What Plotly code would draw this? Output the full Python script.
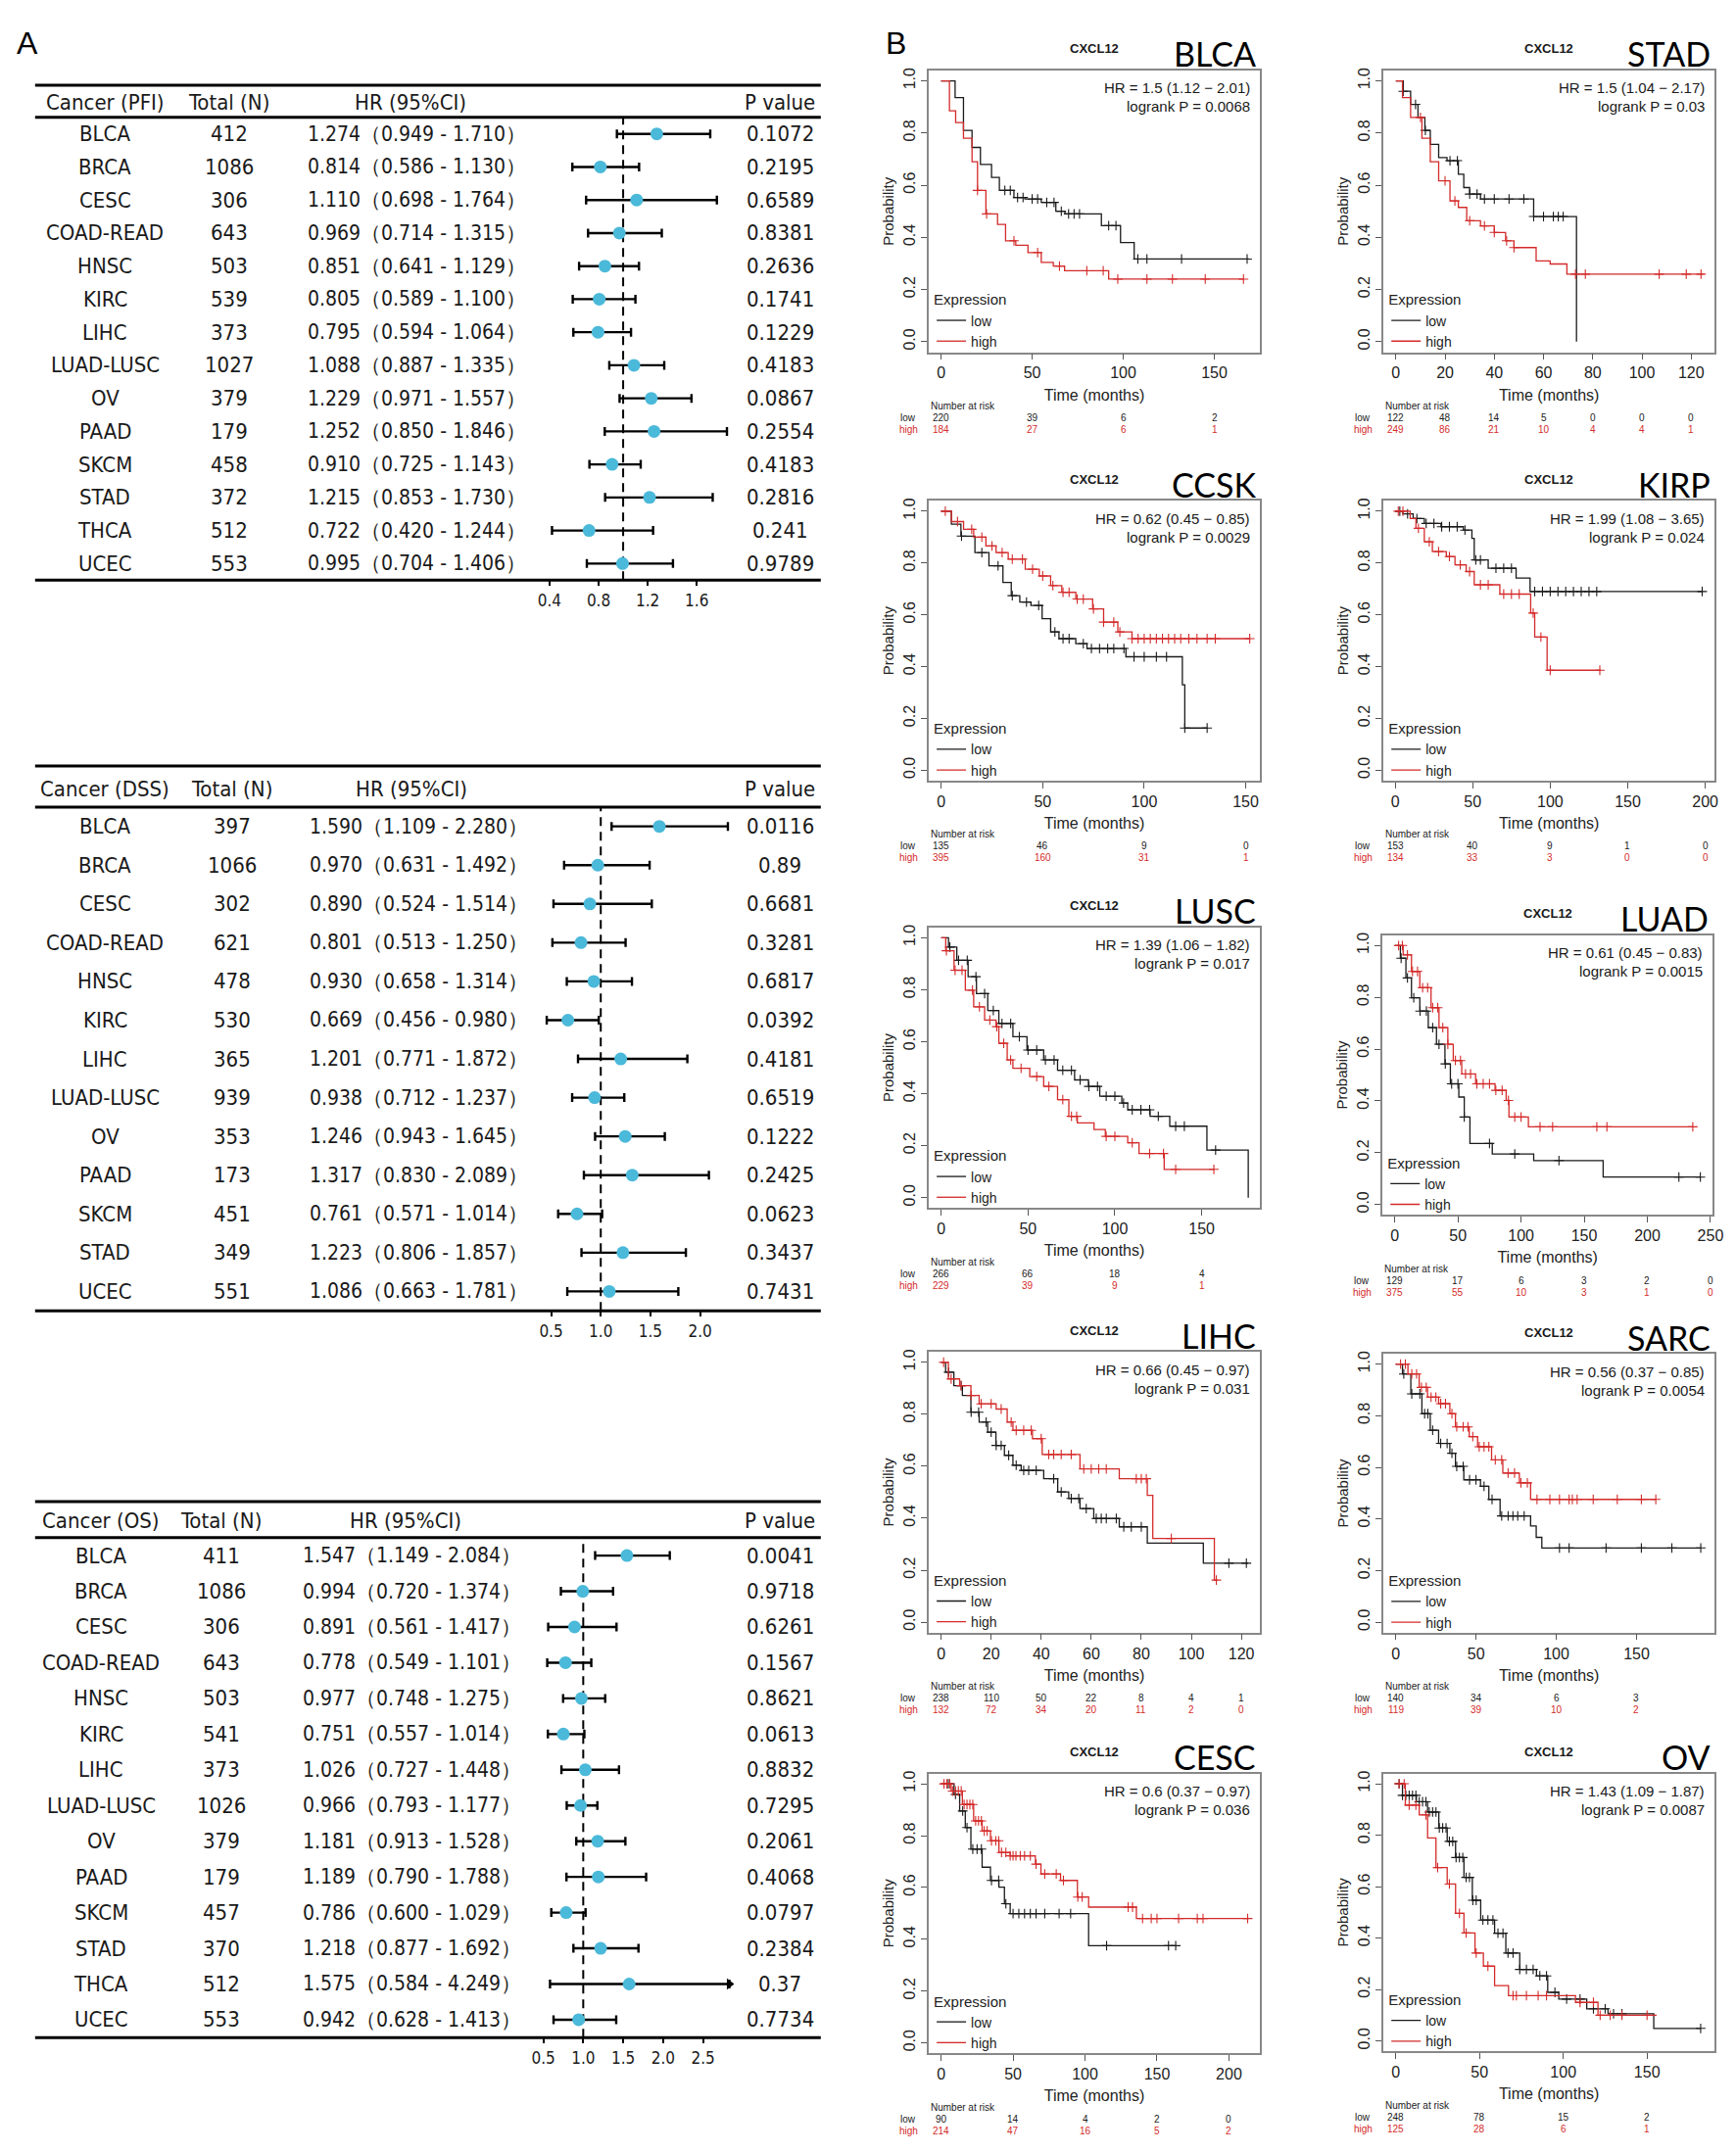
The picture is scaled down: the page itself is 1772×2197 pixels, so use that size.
import plotly.graph_objects as go

W, H = 1772, 2197

# ---------------- Forest data (panel A) ----------------
pfi_cancer = ["BLCA", "BRCA", "CESC", "COAD-READ", "HNSC", "KIRC", "LIHC", "LUAD-LUSC",
              "OV", "PAAD", "SKCM", "STAD", "THCA", "UCEC"]
pfi_n = [412, 1086, 306, 643, 503, 539, 373, 1027, 379, 179, 458, 372, 512, 553]
pfi_hr = [1.274, 0.814, 1.110, 0.969, 0.851, 0.805, 0.795, 1.088, 1.229, 1.252, 0.910, 1.215, 0.722, 0.995]
pfi_lo = [0.949, 0.586, 0.698, 0.714, 0.641, 0.589, 0.594, 0.887, 0.971, 0.850, 0.725, 0.853, 0.420, 0.704]
pfi_hi = [1.710, 1.130, 1.764, 1.315, 1.129, 1.100, 1.064, 1.335, 1.557, 1.846, 1.143, 1.730, 1.244, 1.406]
pfi_p = ["0.1072", "0.2195", "0.6589", "0.8381", "0.2636", "0.1741", "0.1229", "0.4183",
         "0.0867", "0.2554", "0.4183", "0.2816", "0.241", "0.9789"]

dss_cancer = ["BLCA", "BRCA", "CESC", "COAD-READ", "HNSC", "KIRC", "LIHC", "LUAD-LUSC",
              "OV", "PAAD", "SKCM", "STAD", "UCEC"]
dss_n = [397, 1066, 302, 621, 478, 530, 365, 939, 353, 173, 451, 349, 551]
dss_hr = [1.590, 0.970, 0.890, 0.801, 0.930, 0.669, 1.201, 0.938, 1.246, 1.317, 0.761, 1.223, 1.086]
dss_lo = [1.109, 0.631, 0.524, 0.513, 0.658, 0.456, 0.771, 0.712, 0.943, 0.830, 0.571, 0.806, 0.663]
dss_hi = [2.280, 1.492, 1.514, 1.250, 1.314, 0.980, 1.872, 1.237, 1.645, 2.089, 1.014, 1.857, 1.781]
dss_p = ["0.0116", "0.89", "0.6681", "0.3281", "0.6817", "0.0392", "0.4181", "0.6519",
         "0.1222", "0.2425", "0.0623", "0.3437", "0.7431"]

os_cancer = ["BLCA", "BRCA", "CESC", "COAD-READ", "HNSC", "KIRC", "LIHC", "LUAD-LUSC",
             "OV", "PAAD", "SKCM", "STAD", "THCA", "UCEC"]
os_n = [411, 1086, 306, 643, 503, 541, 373, 1026, 379, 179, 457, 370, 512, 553]
os_hr = [1.547, 0.994, 0.891, 0.778, 0.977, 0.751, 1.026, 0.966, 1.181, 1.189, 0.786, 1.218, 1.575, 0.942]
os_lo = [1.149, 0.720, 0.561, 0.549, 0.748, 0.557, 0.727, 0.793, 0.913, 0.790, 0.600, 0.877, 0.584, 0.628]
os_hi = [2.084, 1.374, 1.417, 1.101, 1.275, 1.014, 1.448, 1.177, 1.528, 1.788, 1.029, 1.692, 4.249, 1.413]
os_p = ["0.0041", "0.9718", "0.6261", "0.1567", "0.8621", "0.0613", "0.8832", "0.7295",
        "0.2061", "0.4068", "0.0797", "0.2384", "0.37", "0.7734"]

pfi_ticks = [0.4, 0.8, 1.2, 1.6]
dss_ticks = [0.5, 1.0, 1.5, 2.0]
os_ticks = [0.5, 1.0, 1.5, 2.0, 2.5]

# ---------------- Kaplan-Meier data (panel B) ----------------
blca_low_t = [0, 7.7, 12.3, 17, 21.6, 27.7, 32, 40, 46, 55, 63, 68, 88, 98.5, 106, 169]
blca_low_s = [1.0, 0.936, 0.81, 0.745, 0.68, 0.63, 0.58, 0.553, 0.547, 0.534, 0.50, 0.49, 0.445, 0.38, 0.317, 0.317]
blca_low_c = [35, 38, 42, 45, 50, 53, 58, 62, 66, 70, 73, 76, 92, 96, 108, 113, 132, 168]
blca_high_t = [0, 4.6, 8, 12.3, 17, 20, 24.6, 31, 35.4, 41, 47.7, 55, 61.6, 67.8, 92, 166]
blca_high_s = [1.0, 0.885, 0.84, 0.78, 0.69, 0.58, 0.49, 0.45, 0.387, 0.37, 0.342, 0.304, 0.29, 0.272, 0.24, 0.24]
blca_high_c = [20, 25, 40, 53, 65, 80, 89, 97, 113, 127, 145, 166]

stad_low_t = [0, 3, 6, 9, 11.8, 14, 17.4, 20.8, 25.4, 27.6, 30, 34.4, 56, 73.4]
stad_low_s = [1.0, 0.96, 0.91, 0.86, 0.81, 0.757, 0.706, 0.694, 0.642, 0.591, 0.566, 0.547, 0.48, 0.0]
stad_low_c = [3, 8, 12, 22, 25, 30, 33, 36, 40, 46, 52, 56, 60, 64, 66, 68]
stad_high_t = [0, 2.7, 6, 10.6, 14, 17.4, 22, 25.4, 28.8, 34.4, 40, 44.6, 48, 57, 62.7, 69.5, 125]
stad_high_s = [1.0, 0.936, 0.86, 0.78, 0.69, 0.617, 0.54, 0.515, 0.464, 0.444, 0.419, 0.387, 0.361, 0.31, 0.298, 0.259, 0.259]
stad_high_c = [10, 20, 24, 30, 36, 40, 45, 48, 73, 77, 107, 118, 124]

ccsk_low_t = [0, 5, 9.7, 16.6, 23.5, 30.4, 34.5, 38.7, 44.2, 49.7, 53.9, 58, 66.3, 71.8, 91, 118.8, 120, 131]
ccsk_low_s = [1.0, 0.95, 0.904, 0.84, 0.789, 0.725, 0.674, 0.649, 0.636, 0.585, 0.534, 0.508, 0.489, 0.47, 0.438, 0.33, 0.163, 0.163]
ccsk_low_c = [10, 20, 28, 35, 42, 48, 56, 60, 63, 70, 74, 78, 82, 85, 90, 95, 100, 106, 111, 120, 131]
ccsk_high_t = [0, 5, 11, 16, 22, 27, 33, 41.4, 48.3, 53.9, 59.4, 66.3, 74.6, 80, 87, 94, 152]
ccsk_high_s = [1.0, 0.96, 0.93, 0.9, 0.866, 0.84, 0.815, 0.776, 0.75, 0.713, 0.687, 0.661, 0.623, 0.572, 0.534, 0.508, 0.508]
ccsk_high_c = [2, 8, 15, 20, 25, 30, 35, 40, 45, 50, 55, 60, 63, 67, 70, 75, 80, 85, 88, 94, 97, 100,
               103, 106, 109, 112, 115, 118, 122, 126, 131, 135, 152]

kirp_low_t = [0, 5, 11.6, 18.8, 29.6, 44, 49.5, 51, 60, 78, 87, 198.5]
kirp_low_s = [1.0, 0.99, 0.972, 0.953, 0.94, 0.927, 0.895, 0.812, 0.78, 0.742, 0.69, 0.69]
kirp_low_c = [3, 8, 14, 20, 25, 30, 35, 40, 45, 52, 55, 65, 70, 75, 90, 95, 100, 105, 110, 115, 120, 125, 130, 198]
kirp_high_t = [0, 9.7, 13.4, 18.8, 24, 33, 38.6, 45.8, 51, 67.5, 87.4, 90, 98, 132.5]
kirp_high_s = [1.0, 0.972, 0.934, 0.882, 0.844, 0.825, 0.793, 0.767, 0.716, 0.68, 0.607, 0.514, 0.386, 0.386]
kirp_high_c = [2, 5, 15, 22, 28, 35, 42, 48, 55, 60, 70, 75, 80, 89, 94, 100, 132]

lusc_low_t = [0, 4.2, 9, 15.5, 20.3, 26.8, 33.2, 41.3, 49.4, 59, 67, 76.8, 84.8, 91.3, 104, 107.4, 120.3, 131.6, 153, 176.8]
lusc_low_s = [1.0, 0.964, 0.913, 0.85, 0.785, 0.72, 0.67, 0.619, 0.568, 0.53, 0.49, 0.453, 0.428, 0.39, 0.364, 0.338, 0.313, 0.275, 0.183, 0.0]
lusc_low_c = [5, 10, 15, 20, 25, 30, 35, 40, 45, 50, 55, 60, 65, 70, 75, 80, 85, 90, 95, 100, 105, 110,
              115, 120, 125, 135, 140, 158]
lusc_high_t = [0, 2.6, 7.4, 13.9, 18.7, 25, 31.6, 33.2, 38, 41.3, 51, 59, 67, 73.5, 78.4, 88, 94.5, 107.4, 113.9, 128.4, 157.4]
lusc_high_s = [1.0, 0.95, 0.875, 0.798, 0.734, 0.683, 0.658, 0.594, 0.53, 0.498, 0.466, 0.428, 0.377, 0.313, 0.288, 0.262, 0.236, 0.211, 0.17, 0.109, 0.109]
lusc_high_c = [3, 8, 12, 18, 22, 28, 32, 36, 40, 46, 55, 62, 70, 75, 78, 95, 100, 110, 120, 128, 135, 157]

luad_low_t = [0, 4.4, 8.8, 13.2, 19.8, 26.5, 33, 39.7, 44, 50.7, 55, 59.5, 77.2, 110, 165, 242]
luad_low_s = [1.0, 0.951, 0.875, 0.798, 0.747, 0.683, 0.619, 0.543, 0.466, 0.415, 0.338, 0.236, 0.195, 0.17, 0.106, 0.106]
luad_low_c = [5, 10, 15, 20, 25, 30, 35, 40, 45, 50, 55, 75, 95, 130, 225, 242]
luad_high_t = [0, 6.6, 13.2, 19.8, 28.7, 35, 42, 46.3, 53, 64, 79.4, 88.2, 90.4, 105.8, 236]
luad_high_s = [1.0, 0.964, 0.9, 0.837, 0.76, 0.683, 0.619, 0.556, 0.504, 0.466, 0.441, 0.402, 0.338, 0.3, 0.3]
luad_high_c = [3, 6, 10, 14, 18, 22, 26, 30, 34, 38, 42, 48, 52, 56, 60, 65, 70, 75, 80, 85, 90, 95, 100,
               115, 125, 160, 168, 236]

lihc_low_t = [0, 1.8, 5.1, 8.5, 11.9, 15.2, 18.6, 21.9, 25.3, 28.7, 32, 41, 46.6, 51, 55.5, 61, 71.2, 82.4, 104.8, 122.7]
lihc_low_s = [1.0, 0.962, 0.91, 0.872, 0.808, 0.77, 0.731, 0.68, 0.642, 0.604, 0.584, 0.552, 0.501, 0.476, 0.437, 0.399, 0.367, 0.304, 0.227, 0.227]
lihc_low_c = [3, 8, 12, 15, 18, 20, 22, 24, 27, 30, 33, 35, 38, 45, 48, 52, 55, 58, 62, 64, 66, 70, 73, 76, 80, 115, 122]
lihc_high_t = [0, 2.9, 7.4, 11.9, 15.2, 22, 26.4, 28.7, 36.5, 40.4, 55.5, 71.2, 82.4, 84.6, 109.2, 110.4]
lihc_high_s = [1.0, 0.936, 0.91, 0.872, 0.84, 0.82, 0.77, 0.738, 0.706, 0.645, 0.59, 0.552, 0.488, 0.322, 0.162, 0.162]
lihc_high_c = [1, 4, 8, 12, 16, 20, 24, 28, 30, 33, 36, 40, 43, 45, 48, 52, 57, 60, 63, 66, 78, 80, 82, 92, 110]

sarc_low_t = [0, 4.2, 9.4, 16.3, 21.5, 26.7, 33.7, 37.2, 42.4, 52.8, 58, 65, 84, 87.5, 91, 190]
sarc_low_s = [1.0, 0.962, 0.885, 0.808, 0.744, 0.693, 0.655, 0.604, 0.552, 0.527, 0.476, 0.412, 0.373, 0.329, 0.288, 0.288]
sarc_low_c = [5, 10, 15, 18, 20, 23, 28, 32, 35, 38, 42, 46, 50, 55, 60, 66, 70, 73, 76, 80, 102, 108, 131, 153, 172, 190]
sarc_high_t = [0, 7.6, 14.6, 19.8, 26.7, 33.7, 37.2, 45.8, 51, 59.7, 66.7, 77, 84, 162]
sarc_high_s = [1.0, 0.962, 0.91, 0.872, 0.847, 0.808, 0.757, 0.719, 0.68, 0.629, 0.578, 0.54, 0.476, 0.476]
sarc_high_c = [3, 6, 10, 13, 16, 19, 22, 25, 28, 31, 35, 38, 42, 45, 48, 52, 55, 58, 62, 66, 70, 74, 78, 82,
               88, 96, 102, 108, 110, 113, 123, 138, 153, 162]

cesc_low_t = [0, 9, 12.9, 16.8, 20.7, 28.5, 34.3, 40.2, 44, 48, 102.5, 163]
cesc_low_s = [1.0, 0.959, 0.895, 0.831, 0.748, 0.678, 0.627, 0.601, 0.537, 0.499, 0.375, 0.375]
cesc_low_c = [5, 10, 15, 18, 22, 25, 28, 35, 40, 45, 50, 54, 58, 62, 66, 72, 82, 90, 115, 158, 163]
cesc_high_t = [0, 7, 14.8, 22.6, 28.5, 34.3, 40.2, 48, 65.5, 69.4, 83, 94.7, 102.5, 135.7, 213.6]
cesc_high_s = [1.0, 0.972, 0.92, 0.857, 0.818, 0.78, 0.735, 0.722, 0.69, 0.652, 0.627, 0.563, 0.524, 0.48, 0.48]
cesc_high_c = [2, 4, 6, 8, 10, 12, 14, 16, 18, 20, 22, 24, 26, 28, 30, 32, 35, 38, 40, 42, 45, 48, 50, 52,
               55, 58, 62, 66, 72, 80, 85, 95, 98, 130, 133, 140, 146, 150, 165, 178, 182, 213]

ov_low_t = [0, 4, 12.3, 19, 25.7, 30.7, 35.7, 40.7, 45.7, 50.7, 59, 65.7, 74, 84, 90.7, 97.3, 114, 126.7, 154, 182]
ov_low_s = [1.0, 0.955, 0.93, 0.89, 0.828, 0.776, 0.713, 0.636, 0.547, 0.47, 0.419, 0.342, 0.278, 0.253, 0.189, 0.163, 0.125, 0.106, 0.049, 0.049]
ov_low_c = [2, 4, 6, 8, 10, 12, 14, 16, 18, 20, 22, 24, 26, 28, 30, 32, 34, 36, 38, 40, 42, 44, 46, 48,
            52, 55, 58, 61, 64, 67, 70, 74, 78, 82, 86, 90, 95, 102, 110, 118, 125, 130, 135, 182]
ov_high_t = [0, 5.7, 14, 19, 24, 30.7, 35.7, 40.7, 47.3, 52.3, 59, 67.3, 107.3, 120.7, 155.7]
ov_high_s = [1.0, 0.917, 0.879, 0.789, 0.674, 0.61, 0.496, 0.42, 0.342, 0.291, 0.215, 0.176, 0.15, 0.1, 0.1]
ov_high_c = [2, 5, 8, 12, 18, 25, 32, 38, 42, 48, 55, 70, 72, 78, 85, 90, 110, 118, 122, 128, 135, 150]

# number at risk (at tick times)
blca_ticks = [0, 50, 100, 150]; blca_risk_low = [220, 39, 6, 2]; blca_risk_high = [184, 27, 6, 1]
stad_ticks = [0, 20, 40, 60, 80, 100, 120]; stad_risk_low = [122, 48, 14, 5, 0, 0, 0]; stad_risk_high = [249, 86, 21, 10, 4, 4, 1]
ccsk_ticks = [0, 50, 100, 150]; ccsk_risk_low = [135, 46, 9, 0]; ccsk_risk_high = [395, 160, 31, 1]
kirp_ticks = [0, 50, 100, 150, 200]; kirp_risk_low = [153, 40, 9, 1, 0]; kirp_risk_high = [134, 33, 3, 0, 0]
lusc_ticks = [0, 50, 100, 150]; lusc_risk_low = [266, 66, 18, 4]; lusc_risk_high = [229, 39, 9, 1]
luad_ticks = [0, 50, 100, 150, 200, 250]; luad_risk_low = [129, 17, 6, 3, 2, 0]; luad_risk_high = [375, 55, 10, 3, 1, 0]
lihc_ticks = [0, 20, 40, 60, 80, 100, 120]; lihc_risk_low = [238, 110, 50, 22, 8, 4, 1]; lihc_risk_high = [132, 72, 34, 20, 11, 2, 0]
sarc_ticks = [0, 50, 100, 150]; sarc_risk_low = [140, 34, 6, 3]; sarc_risk_high = [119, 39, 10, 2]
cesc_ticks = [0, 50, 100, 150, 200]; cesc_risk_low = [90, 14, 4, 2, 0]; cesc_risk_high = [214, 47, 16, 5, 2]
ov_ticks = [0, 50, 100, 150]; ov_risk_low = [248, 78, 15, 2]; ov_risk_high = [125, 28, 6, 1]

km_names = ["BLCA", "STAD", "CCSK", "KIRP", "LUSC", "LUAD", "LIHC", "SARC", "CESC", "OV"]
km_hr_text = ["HR = 1.5 (1.12 \u2212 2.01)", "HR = 1.5 (1.04 \u2212 2.17)", "HR = 0.62 (0.45 \u2212 0.85)",
              "HR = 1.99 (1.08 \u2212 3.65)", "HR = 1.39 (1.06 \u2212 1.82)", "HR = 0.61 (0.45 \u2212 0.83)",
              "HR = 0.66 (0.45 \u2212 0.97)", "HR = 0.56 (0.37 \u2212 0.85)", "HR = 0.6 (0.37 \u2212 0.97)",
              "HR = 1.43 (1.09 \u2212 1.87)"]
km_logrank = ["0.0068", "0.03", "0.0029", "0.024", "0.017", "0.0015", "0.031", "0.0054", "0.036", "0.0087"]

# ---------------- Layout helpers ----------------
def px(x):
    return x / W


def py(y):
    return 1 - y / H


def names(i):
    s = "" if i == 1 else str(i)
    return "xaxis" + s, "yaxis" + s, "x" + s, "y" + s


FONT_N = "Liberation Sans Narrow, DejaVu Sans Condensed, Arial Narrow, sans-serif"
FONT_S = "Liberation Sans, Arial, sans-serif"
FONT_C = "Lato, Carlito, Calibri, sans-serif"
CYAN = "#4BB9D9"
RED = "#D42A2A"
BLACK = "#1A1A1A"

fig = go.Figure()
lay = {}
annotations = []
shapes = []


def ann(text, x, y, xref="paper", yref="paper", size=22, family=FONT_N, xanchor="center",
        color="#1a1a1a", yanchor="middle", textangle=0):
    annotations.append(dict(text=text, x=x, y=y, xref=xref, yref=yref, showarrow=False,
                            font=dict(size=size, family=family, color=color),
                            xanchor=xanchor, yanchor=yanchor, textangle=textangle))


# ---------------- Forest plots ----------------
forest_specs = [
    dict(tag="PFI", cancer=pfi_cancer, n=pfi_n, hr=pfi_hr, lo=pfi_lo, hi=pfi_hi, p=pfi_p, ticks=pfi_ticks,
         top=76, head=94, under=109, bottom=582, one=632, ppu=126,
         c_can=100, c_tot=227, c_hr=306, c_hrh=414, c_p=793, clip=None),
    dict(tag="DSS", cancer=dss_cancer, n=dss_n, hr=dss_hr, lo=dss_lo, hi=dss_hi, p=dss_p, ticks=dss_ticks,
         top=772, head=796, under=814, bottom=1329, one=609, ppu=102,
         c_can=100, c_tot=230, c_hr=308, c_hrh=415, c_p=793, clip=None),
    dict(tag="OS", cancer=os_cancer, n=os_n, hr=os_hr, lo=os_lo, hi=os_hi, p=os_p, ticks=os_ticks,
         top=1524, head=1544, under=1561, bottom=2072, one=591, ppu=82,
         c_can=96, c_tot=219, c_hr=301, c_hrh=409, c_p=793, clip=2.83),
]

X0F, X1F = 520, 770
for k, g in enumerate(forest_specs):
    i = k + 1
    xa, ya, xr, yr = names(i)
    rng = [1 + (X0F - g["one"]) / g["ppu"], 1 + (X1F - g["one"]) / g["ppu"]]
    clip = g["clip"] if g["clip"] else rng[1]
    hi_draw = [min(u, clip) for u in g["hi"]]
    fig.add_trace(go.Scatter(
        x=g["hr"], y=g["cancer"], mode="markers", xaxis=xr, yaxis=yr, showlegend=False,
        marker=dict(color=CYAN, size=13, line=dict(width=0)),
        error_x=dict(type="data", symmetric=False,
                     array=[u - h for u, h in zip(hi_draw, g["hr"])],
                     arrayminus=[h - l for h, l in zip(g["hr"], g["lo"])],
                     color="black", thickness=2.4, width=4.5)))
    over = [(c, clip) for c, u in zip(g["cancer"], g["hi"]) if u > clip]
    if over:
        fig.add_trace(go.Scatter(x=[o[1] for o in over], y=[o[0] for o in over], mode="markers",
                                 xaxis=xr, yaxis=yr, showlegend=False,
                                 marker=dict(symbol="triangle-right", size=10, color="black")))
    nrow = len(g["cancer"])
    lay[xa] = dict(domain=[px(X0F), px(X1F)], range=rng, anchor=yr, tickvals=g["ticks"],
                   ticktext=[f"{v:.1f}" for v in g["ticks"]], ticks="outside", ticklen=5, tickwidth=1.5,
                   tickcolor="black", showgrid=False, zeroline=False, showline=False,
                   tickfont=dict(family=FONT_N, size=17, color="#1a1a1a"))
    lay[ya] = dict(domain=[py(g["bottom"]), py(g["under"])], type="category", categoryorder="array",
                   categoryarray=g["cancer"], range=[nrow - 0.5, -0.5], anchor=xr,
                   showticklabels=False, showgrid=False, zeroline=False, showline=False, ticks="")
    for yy, wd in ((g["top"], 3), (g["under"], 3), (g["bottom"], 3)):
        shapes.append(dict(type="line", xref="paper", yref="paper", x0=px(28), x1=px(835),
                           y0=py(yy), y1=py(yy), line=dict(color="black", width=wd)))
    shapes.append(dict(type="line", xref=xr, yref=yr + " domain", x0=1, x1=1, y0=0, y1=1,
                       line=dict(color="black", width=2, dash="9px,6px"), layer="below"))
    # header
    ann(f"Cancer ({g['tag']})", px(g["c_can"]), py(g["head"]))
    ann("Total (N)", px(g["c_tot"]), py(g["head"]))
    ann("HR (95%CI)", px(g["c_hrh"]), py(g["head"]))
    ann("P value", px(g["c_p"]), py(g["head"]))
    for c, nn, h, l, u, pv in zip(g["cancer"], g["n"], g["hr"], g["lo"], g["hi"], g["p"]):
        ann(c, px(g["c_can"]), c, yref=yr)
        ann(str(nn), px(g["c_tot"]), c, yref=yr)
        ann(f"{h:.3f}\uFF08{l:.3f} - {u:.3f}\uFF09", px(g["c_hr"]), c, yref=yr, xanchor="left", size=21)
        ann(pv, px(g["c_p"]), c, yref=yr)

# ---------------- KM plots ----------------
km_data = [
    (blca_low_t, blca_low_s, blca_low_c, blca_high_t, blca_high_s, blca_high_c, blca_ticks, blca_risk_low, blca_risk_high),
    (stad_low_t, stad_low_s, stad_low_c, stad_high_t, stad_high_s, stad_high_c, stad_ticks, stad_risk_low, stad_risk_high),
    (ccsk_low_t, ccsk_low_s, ccsk_low_c, ccsk_high_t, ccsk_high_s, ccsk_high_c, ccsk_ticks, ccsk_risk_low, ccsk_risk_high),
    (kirp_low_t, kirp_low_s, kirp_low_c, kirp_high_t, kirp_high_s, kirp_high_c, kirp_ticks, kirp_risk_low, kirp_risk_high),
    (lusc_low_t, lusc_low_s, lusc_low_c, lusc_high_t, lusc_high_s, lusc_high_c, lusc_ticks, lusc_risk_low, lusc_risk_high),
    (luad_low_t, luad_low_s, luad_low_c, luad_high_t, luad_high_s, luad_high_c, luad_ticks, luad_risk_low, luad_risk_high),
    (lihc_low_t, lihc_low_s, lihc_low_c, lihc_high_t, lihc_high_s, lihc_high_c, lihc_ticks, lihc_risk_low, lihc_risk_high),
    (sarc_low_t, sarc_low_s, sarc_low_c, sarc_high_t, sarc_high_s, sarc_high_c, sarc_ticks, sarc_risk_low, sarc_risk_high),
    (cesc_low_t, cesc_low_s, cesc_low_c, cesc_high_t, cesc_high_s, cesc_high_c, cesc_ticks, cesc_risk_low, cesc_risk_high),
    (ov_low_t, ov_low_s, ov_low_c, ov_high_t, ov_high_s, ov_high_c, ov_ticks, ov_risk_low, ov_risk_high),
]
# plot boxes in pixels (left, right, top, bottom) and x-axis ranges (layout)
km_boxes = [(946, 1286, 61, 349), (1413, 1753, 61, 349), (946, 1286, 501, 787), (1413, 1753, 501, 787),
            (946, 1286, 937, 1224), (1412, 1751, 945, 1231), (946, 1286, 1371, 1658), (1413, 1753, 1373, 1658),
            (946, 1286, 1802, 2088), (1413, 1753, 1802, 2086)]
km_xrange = [[-6.7, 175], [-5, 129.5], [-6.1, 157], [-7.5, 206], [-7.1, 183.5], [-9.7, 251.7],
             [-4.9, 127.4], [-7.6, 198.6], [-8.5, 221.5], [-7.3, 190.3]]


def step_at(ts, ss, c):
    v = ss[0]
    for t, s in zip(ts, ss):
        if t <= c:
            v = s
    return v


for k, (name, d, box, xrg) in enumerate(zip(km_names, km_data, km_boxes, km_xrange)):
    i = 4 + k
    xa, ya, xr, yr = names(i)
    lt, ls, lc, ht, hs, hc, ticks, rl, rh = d
    L, R, T, B = box
    leg = "legend" if k == 0 else f"legend{k + 1}"
    for tt, ssv, cc, col, lab in ((lt, ls, lc, BLACK, "low"), (ht, hs, hc, RED, "high")):
        fig.add_trace(go.Scatter(x=tt, y=ssv, mode="lines", name=lab, legend=leg, xaxis=xr, yaxis=yr,
                                 line=dict(shape="hv", color=col, width=1.3)))
        fig.add_trace(go.Scatter(x=cc, y=[step_at(tt, ssv, c) for c in cc], mode="markers",
                                 showlegend=False, xaxis=xr, yaxis=yr,
                                 marker=dict(symbol="cross-thin", size=7, color=col,
                                             line=dict(width=1.1, color=col))))
    lay[xa] = dict(domain=[px(L), px(R)], range=xrg, anchor=yr, tickvals=ticks, ticks="outside",
                   ticklen=6, tickcolor="#555", showline=True, mirror=True, linecolor="#888", linewidth=1.5,
                   showgrid=False, zeroline=False, tickfont=dict(family=FONT_S, size=16, color="#222"),
                   title=dict(text="Time (months)", font=dict(family=FONT_S, size=16, color="#222"), standoff=9))
    lay[ya] = dict(domain=[py(B), py(T)], range=[-0.04, 1.04], anchor=xr, tickvals=[0, 0.2, 0.4, 0.6, 0.8, 1.0],
                   ticktext=["0.0", "0.2", "0.4", "0.6", "0.8", "1.0"], tickangle=-90, ticks="outside",
                   ticklen=6, tickcolor="#555", showline=True, mirror=True, linecolor="#888", linewidth=1.5,
                   showgrid=False, zeroline=False, tickfont=dict(family=FONT_S, size=16, color="#222"),
                   title=dict(text="Probability", font=dict(family=FONT_S, size=15, color="#222"), standoff=4))
    lay[leg] = dict(x=px(L + 3), y=py(T + 0.765 * (B - T)), xanchor="left", yanchor="top",
                    bgcolor="rgba(0,0,0,0)", font=dict(family=FONT_S, size=14, color="#222"),
                    title=dict(text="Expression", font=dict(family=FONT_S, size=15, color="#222")),
                    tracegroupgap=0, itemwidth=30, traceorder="normal")
    ann("<b>CXCL12</b>", px((L + R) / 2), py(T - 22), size=13, family=FONT_S)
    ann(name, px(R - 2), py(T - 17), size=34, family=FONT_C, xanchor="right", color="black")
    ann(km_hr_text[k], px(R - 8), py(T + 18), size=15, family=FONT_S, xanchor="right")
    ann(f"logrank P = {km_logrank[k]}", px(R - 8), py(T + 37), size=15, family=FONT_S, xanchor="right")
    ann("Number at risk", px(L), py(B + 55), size=10, family=FONT_S, xanchor="left")
    ann("low", px(L - 21), py(B + 67), size=10, family=FONT_S)
    ann("high", px(L - 21), py(B + 79), size=10, family=FONT_S, color=RED)
    for tv, a, b in zip(ticks, rl, rh):
        ann(str(a), tv, py(B + 67), xref=xr, size=10, family=FONT_S)
        ann(str(b), tv, py(B + 79), xref=xr, size=10, family=FONT_S, color=RED)

ann("A", px(20), py(33), size=32, family=FONT_S, color="black")
ann("B", px(912), py(33), size=32, family=FONT_S, color="black")

fig.update_layout(width=W, height=H, margin=dict(l=0, r=0, t=0, b=0), paper_bgcolor="white",
                  plot_bgcolor="rgba(0,0,0,0)", annotations=annotations, shapes=shapes, **lay)
fig.write_html("out.html")
